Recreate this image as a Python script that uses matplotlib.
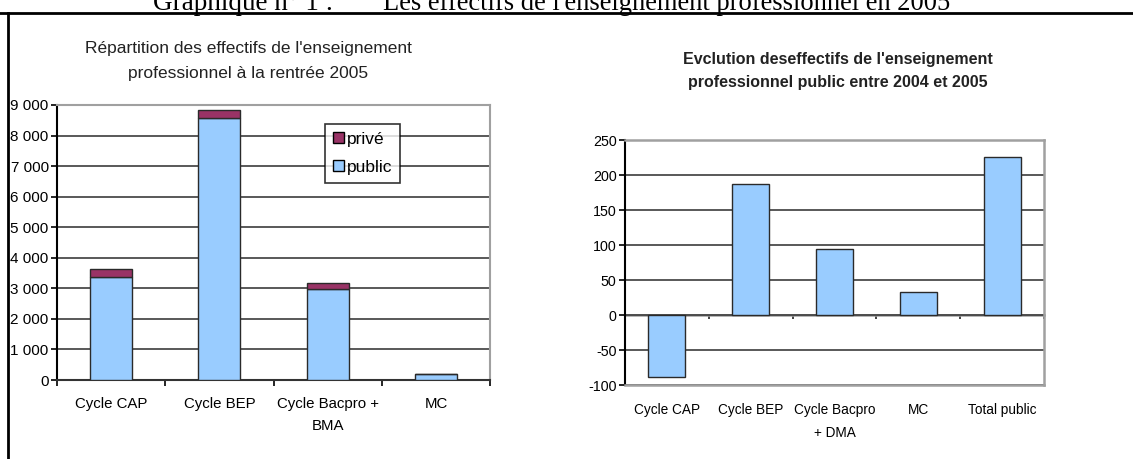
import matplotlib
matplotlib.use('Agg')
import matplotlib.pyplot as plt
from matplotlib.lines import Line2D
from matplotlib.patches import Patch
import numpy as np

plt.rcParams['font.family'] = ['Liberation Sans', 'DejaVu Sans']
plt.rcParams['axes.unicode_minus'] = False

# left chart: enrolment at the 2005 start of year
cats_left = ['Cycle CAP', 'Cycle BEP', 'Cycle Bacpro +\nBMA', 'MC']
public_2005 = [3380, 8580, 2970, 185]
prive_2005 = [240, 240, 220, 0]
ticks_left = [0, 1000, 2000, 3000, 4000, 5000, 6000, 7000, 8000, 9000]
tick_labels_left = ['0', '1 000', '2 000', '3 000', '4 000', '5 000',
                    '6 000', '7 000', '8 000', '9 000']

# right chart: change in public enrolment 2004 -> 2005
cats_right = ['Cycle CAP', 'Cycle BEP', 'Cycle Bacpro\n+ DMA', 'MC', 'Total public']
evolution = [-89, 187, 95, 33, 226]
ticks_right = [-100, -50, 0, 50, 100, 150, 200, 250]

C_PUBLIC = '#99ccff'
C_PRIVE = '#993366'
GRID = '#3c3c3c'
FRAME = '#a0a0a0'

W, H = 1133, 459
fig = plt.figure(figsize=(W / 100, H / 100), dpi=100)
fig.patch.set_facecolor('white')


def frac(x0, y0, x1, y1):
    return [x0 / W, 1 - y1 / H, (x1 - x0) / W, (y1 - y0) / H]


# ---- left chart
ax1 = fig.add_axes(frac(57, 105, 490, 380))
x = np.arange(len(cats_left))
ax1.bar(x, public_2005, width=0.39, color=C_PUBLIC, edgecolor='#2a2a2a',
        linewidth=1, zorder=3, label='public')
ax1.bar(x, prive_2005, width=0.39, bottom=public_2005, color=C_PRIVE,
        edgecolor='#2a2a2a', linewidth=1, zorder=3, label='privé')
ax1.set_xlim(-0.5, len(cats_left) - 0.5)
ax1.set_ylim(0, 9000)
ax1.set_yticks(ticks_left, tick_labels_left)
ax1.set_xticks(x, cats_left)
ax1.set_xticks(np.arange(len(cats_left) + 1) - 0.5, minor=True)
ax1.tick_params(axis='x', which='major', length=0, pad=12, labelsize=10.8)
ax1.tick_params(axis='x', which='minor', length=4, width=1.2, direction='out')
ax1.tick_params(axis='y', length=4, width=1.2, labelsize=11, pad=2)
for t in ax1.get_xticklabels():
    t.set_linespacing(1.75)
ax1.yaxis.grid(True, color=GRID, linewidth=1.2, zorder=0)
ax1.set_axisbelow(True)
ax1.spines['left'].set_linewidth(1.5)
ax1.spines['bottom'].set_linewidth(1.5)
ax1.spines['bottom'].set_color('#333333')
for s in ('top', 'right'):
    ax1.spines[s].set_color(FRAME)
    ax1.spines[s].set_linewidth(1.5)
handles = [Patch(facecolor=C_PRIVE, edgecolor='black', label='privé'),
           Patch(facecolor=C_PUBLIC, edgecolor='black', label='public')]
leg = ax1.legend(handles=handles, loc='upper left', bbox_to_anchor=(0.62, 0.93),
                 frameon=True, fancybox=False, fontsize=12.5, handlelength=0.6,
                 handleheight=0.6, handletextpad=0.2, borderpad=0.45,
                 labelspacing=0.75, borderaxespad=0)
leg.get_frame().set_edgecolor('black')
leg.get_frame().set_linewidth(1.2)
fig.text(248 / W, 1 - 61 / H,
         "Répartition des effectifs de l'enseignement\nprofessionnel à la rentrée 2005",
         ha='center', va='center', fontsize=12.5, linespacing=1.8, color='#222222')

# ---- right chart
ax2 = fig.add_axes(frac(625, 140, 1044, 385))
xr = np.arange(len(cats_right))
ax2.bar(xr, evolution, width=0.44, color=C_PUBLIC, edgecolor='#2a2a2a',
        linewidth=1, zorder=3)
ax2.set_xlim(-0.5, len(cats_right) - 0.5)
ax2.set_ylim(-100, 250)
ax2.set_yticks(ticks_right)
ax2.set_xticks(xr, cats_right)
ax2.tick_params(axis='x', length=0, pad=13, labelsize=9.8)
ax2.tick_params(axis='y', length=4, width=1.2, labelsize=10.3, pad=2)
for t in ax2.get_xticklabels():
    t.set_linespacing(1.8)
ax2.yaxis.grid(True, color=GRID, linewidth=1.2, zorder=0)
ax2.set_axisbelow(True)
ax2.spines['left'].set_linewidth(1.5)
for s in ('top', 'right', 'bottom'):
    ax2.spines[s].set_color(FRAME)
    ax2.spines[s].set_linewidth(1.8)
# zero line carrying the category separators
zero_pos = (0 - ticks_right[0]) / (ticks_right[-1] - ticks_right[0])
sec = ax2.secondary_xaxis(zero_pos)
sec.set_xticks(np.arange(len(cats_right) + 1) - 0.5)
sec.set_xticklabels([])
sec.tick_params(length=3, width=1.2, direction='out', color='#222222')
sec.spines['bottom'].set_color(FRAME)
sec.spines['bottom'].set_linewidth(1.8)
fig.text(838 / W, 1 - 71 / H,
         "Evclution deseffectifs de l'enseignement\nprofessionnel public entre 2004 et 2005",
         ha='center', va='center', fontsize=11.5, fontweight='bold',
         linespacing=1.65, color='#222222')

# ---- page heading and frame
fig.text(153 / W, 1 - 10 / H, 'Graphique n° 1 :', family='Liberation Serif',
         fontsize=19.5, va='baseline', ha='left')
fig.text(383 / W, 1 - 10 / H, "Les effectifs de l'enseignement professionnel en 2005",
         family='Liberation Serif', fontsize=19.1, va='baseline', ha='left')
fig.add_artist(Line2D([0, 1], [1 - 13 / H] * 2, transform=fig.transFigure,
                      color='black', linewidth=2))
fig.add_artist(Line2D([8 / W] * 2, [0, 1 - 13 / H], transform=fig.transFigure,
                      color='black', linewidth=2))

fig.savefig('out.png', dpi=100)
